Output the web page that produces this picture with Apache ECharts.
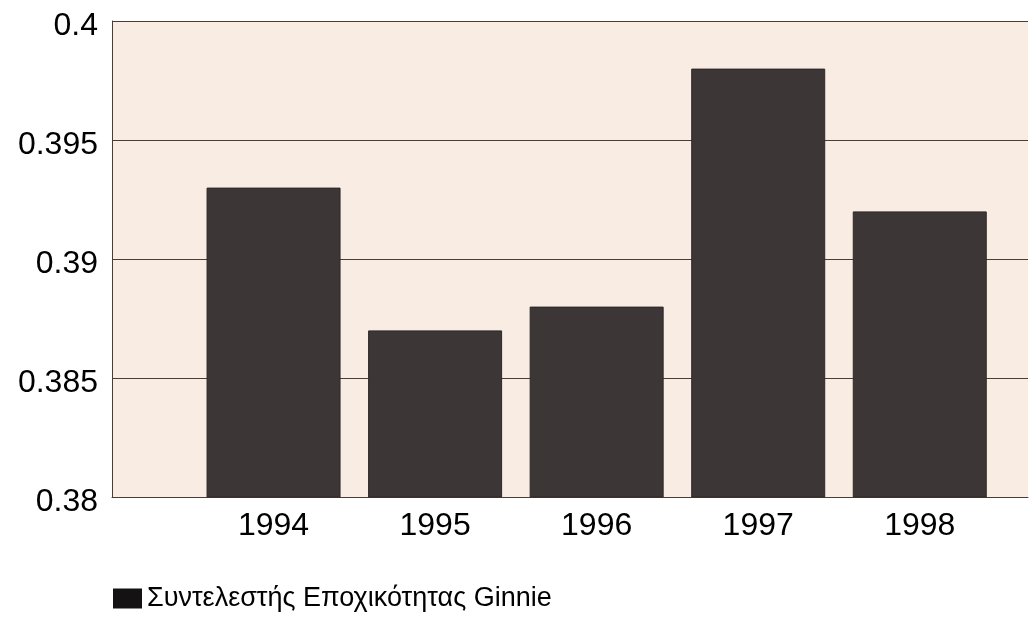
<!DOCTYPE html>
<html>
<head>
<meta charset="utf-8">
<script src="https://cdn.jsdelivr.net/npm/echarts@6/dist/echarts.min.js"></script>
<style>
html,body{margin:0;padding:0;background:#ffffff;}
#chart{width:1031px;height:619px;}
</style>
</head>
<body>
<div id="chart"></div>
<script>
const years = [1994, 1995, 1996, 1997, 1998];
const values = [0.393, 0.387, 0.388, 0.398, 0.392];
const seriesName = 'Συντελεστής Εποχικότητας Ginnie';
const yMin = 0.38, yMax = 0.4, yStep = 0.005;
const xMin = 1993, xMax = 1998.67;

const chart = echarts.init(document.getElementById('chart'), null, {renderer: 'canvas'});
const lineColor = '#4a3d38';
const font = '"Liberation Sans", Arial, sans-serif';
chart.setOption({
  backgroundColor: '#ffffff',
  animation: false,
  grid: {
    left: 112, top: 21, right: 0, height: 476,
    show: true, backgroundColor: '#f8ece3', borderWidth: 0
  },
  legend: {
    data: [seriesName],
    left: 108, top: 580,
    icon: 'rect', itemWidth: 29, itemHeight: 20, itemGap: 0,
    itemStyle: {color: '#141212', borderWidth: 0},
    textStyle: {fontFamily: font, fontSize: 27, color: '#000'}
  },
  xAxis: {
    type: 'value',
    min: xMin, max: xMax, interval: 1,
    splitLine: {show: false},
    axisTick: {show: false},
    axisLine: {show: true, lineStyle: {color: lineColor, width: 1}},
    axisLabel: {
      fontFamily: font, fontSize: 32, color: '#000', margin: 13,
      formatter: v => years.includes(v) ? String(v) : ''
    }
  },
  yAxis: {
    type: 'value',
    min: yMin, max: yMax, interval: yStep,
    axisLine: {show: true, lineStyle: {color: lineColor, width: 1}},
    axisTick: {show: false},
    splitLine: {show: true, lineStyle: {color: lineColor, width: 1}},
    axisLabel: {
      fontFamily: font, fontSize: 32, color: '#000', margin: 14,
      verticalAlign: 'top', lineHeight: 10
    }
  },
  series: [{
    name: seriesName,
    type: 'bar',
    barWidth: 134,
    itemStyle: {color: '#3d3636', borderColor: '#2e2828', borderWidth: 1},
    data: years.map((y, i) => [y, values[i]])
  }]
});
</script>
</body>
</html>
